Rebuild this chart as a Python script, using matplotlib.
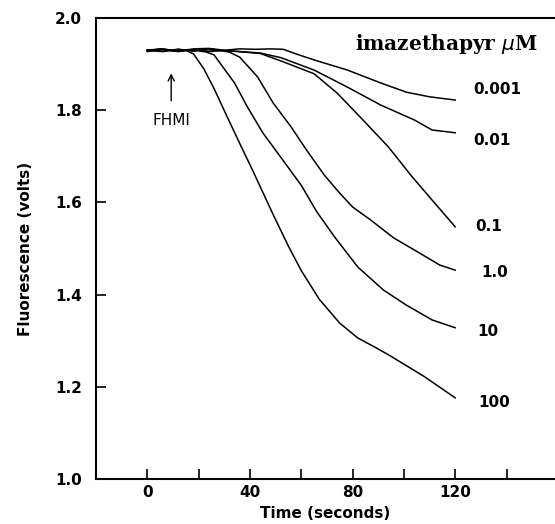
import matplotlib
matplotlib.use('Agg')

import numpy as np
import matplotlib.pyplot as plt
from matplotlib.ticker import MultipleLocator

plt.rcParams['font.family'] = ['DejaVu Sans']

# concentration labels (imazethapyr, uM)
conc = ["0.001", "0.01", "0.1", "1.0", "10", "100"]

# traces: time (s) and fluorescence (volts)
t_0001 = [0, 6, 12, 18, 24, 30, 36, 42, 48, 53, 58, 65, 78, 91, 101, 110, 120]
v_0001 = [1.929, 1.933, 1.928, 1.933, 1.934, 1.930, 1.933, 1.932, 1.933, 1.932, 1.922, 1.909, 1.887, 1.859, 1.839, 1.829, 1.822]

t_001 = [0, 6, 12, 18, 24, 30, 36, 44, 52, 65, 78, 91, 104, 111, 120]
v_001 = [1.930, 1.927, 1.932, 1.928, 1.933, 1.929, 1.927, 1.924, 1.914, 1.887, 1.850, 1.811, 1.779, 1.757, 1.751]

t_01 = [0, 6, 12, 18, 24, 30, 36, 44, 52, 65, 74, 84, 94, 103, 111, 120]
v_01 = [1.927, 1.932, 1.929, 1.931, 1.927, 1.930, 1.927, 1.923, 1.907, 1.879, 1.837, 1.779, 1.720, 1.657, 1.605, 1.547]

t_1 = [0, 6, 12, 18, 24, 30, 32, 36, 43, 49, 56, 62, 69, 75, 80, 87, 96, 104, 114, 120]
v_1 = [1.931, 1.928, 1.932, 1.929, 1.931, 1.928, 1.926, 1.915, 1.872, 1.816, 1.764, 1.714, 1.659, 1.620, 1.590, 1.562, 1.523, 1.497, 1.464, 1.453]

t_10 = [0, 6, 12, 18, 23, 26, 34, 39, 45, 52, 60, 66, 73, 82, 92, 101, 111, 120]
v_10 = [1.929, 1.932, 1.927, 1.931, 1.926, 1.920, 1.859, 1.807, 1.751, 1.698, 1.637, 1.580, 1.525, 1.460, 1.410, 1.377, 1.345, 1.328]

t_100 = [0, 5, 10, 15, 18, 22, 26, 31, 36, 41, 45, 49, 55, 60, 67, 75, 82, 90, 95, 108, 120]
v_100 = [1.930, 1.933, 1.928, 1.930, 1.922, 1.890, 1.847, 1.787, 1.728, 1.670, 1.622, 1.574, 1.505, 1.452, 1.390, 1.338, 1.306, 1.282, 1.266, 1.222, 1.176]

times = [t_0001, t_001, t_01, t_1, t_10, t_100]
volts = [v_0001, v_001, v_01, v_1, v_10, v_100]
label_x = [127, 127, 128, 130, 128.5, 129]
label_y = [1.844, 1.735, 1.547, 1.447, 1.319, 1.165]

fig = plt.figure(figsize=(5.55, 5.24), dpi=100)
ax = fig.add_axes([0.1730, 0.0859, 0.8270, 0.8798])

for t, v in zip(times, volts):
    ax.plot(t, v, color='black', lw=1.1)

for lab, x, y in zip(conc, label_x, label_y):
    ax.text(x, y, lab, fontsize=11, fontweight='bold', va='center', ha='left')

ax.text(152.3, 1.943, r"imazethapyr $\mu$M", fontsize=14.5, fontweight='bold',
        family='DejaVu Serif', ha='right', va='center')

ax.annotate("FHMI", xy=(9.3, 1.880), xytext=(9.3, 1.777),
            fontsize=11, ha='center', va='center',
            arrowprops=dict(arrowstyle='->', color='black', lw=1.0,
                            shrinkA=7, shrinkB=0))

ax.set_xlim(-20, 158.9)
ax.set_ylim(1.0, 2.0)
ax.xaxis.set_major_locator(MultipleLocator(40))
ax.xaxis.set_minor_locator(MultipleLocator(20))
ax.yaxis.set_major_locator(MultipleLocator(0.2))
ax.yaxis.set_major_formatter(plt.FormatStrFormatter('%.1f'))

ax.tick_params(which='both', direction='in', length=7, width=1.2,
               top=False, right=False)
ax.tick_params(axis='y', pad=10, labelsize=11)
ax.tick_params(axis='x', pad=4, labelsize=11)
for lab in ax.get_xticklabels() + ax.get_yticklabels():
    lab.set_fontweight('bold')

ax.spines['right'].set_visible(False)
for s in ['left', 'bottom', 'top']:
    ax.spines[s].set_linewidth(1.5)

ax.set_xlabel("Time (seconds)", fontsize=11, fontweight='bold', labelpad=5)
ax.set_ylabel("Fluorescence (volts)", fontsize=11, fontweight='bold', labelpad=16)

fig.savefig("out.png", dpi=100)
